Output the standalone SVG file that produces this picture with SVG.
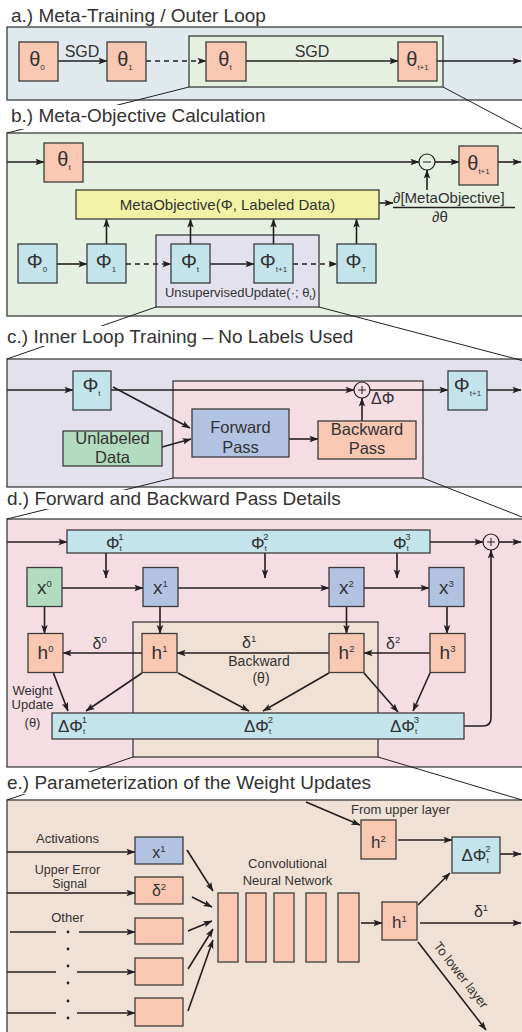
<svg xmlns="http://www.w3.org/2000/svg" width="522" height="1032" viewBox="0 0 522 1032">
<defs>
<style>
.pn{stroke:#3c3c3c;stroke-width:1.3}
.bx{stroke:#3c3c3c;stroke-width:1.3}
.sal{fill:#f9c8b3}
.cy{fill:#c2e4ea}
.bl{fill:#b2c2e2}
.gr{fill:#b2dbbf}
.yl{fill:#f1f2a6}
.c{fill:none;stroke:#231f20;stroke-width:1.6}
.ar{marker-end:url(#ah)}
.ds{stroke-dasharray:5 4}
.zl{fill:none;stroke:#231f20;stroke-width:1}
.t{font-family:"Liberation Sans",Arial,Helvetica,sans-serif;fill:#333}
.ttl{font-size:19px}
.n{font-size:20px;text-anchor:middle}
.nx{font-size:19px;text-anchor:middle}
.m{text-anchor:middle}
.sb{font-size:8px}
.sp{font-size:9.5px}
.wb{fill:#ffffff}
.dot{fill:#231f20}
</style>
<marker id="ah" viewBox="0 0 10 8" refX="9.5" refY="4" markerWidth="9" markerHeight="7.5" orient="auto" markerUnits="userSpaceOnUse">
<path d="M0,0.4 L10,4 L0,7.6 L2.2,4 Z" fill="#231f20"/>
</marker>
</defs>

<!-- panels -->
<g id="panel-a"><rect class="pn" x="7" y="27" width="530" height="73" fill="#e0e9ed"/></g>
<g id="zoom-a"><rect class="pn" x="189" y="36" width="254" height="51" fill="#e6f0e1"/></g>
<g id="panel-b"><rect class="pn" x="7" y="133" width="530" height="183" fill="#e6f0e2"/></g>
<g id="zoom-b"><rect class="pn" x="156" y="235" width="163" height="72" fill="#e3e1ee"/>
<text class="t m" x="240.5" y="297" font-size="13">UnsupervisedUpdate(·; θ<tspan class="sb" dy="3">t</tspan><tspan dy="-3">)</tspan></text></g>
<g id="panel-c"><rect class="pn" x="7" y="359" width="530" height="128" fill="#e3e2ec"/></g>
<g id="zoom-c"><rect class="pn" x="173" y="381" width="250" height="97" fill="#f5dde4"/></g>
<g id="panel-d"><rect class="pn" x="7" y="519" width="530" height="248" fill="#f5dde4"/></g>
<g id="zoom-d"><rect class="pn" x="133" y="622" width="245" height="135" fill="#f0e1d6"/>
<text class="t m" x="259" y="666" font-size="14">Backward</text>
<text class="t m" x="261" y="683" font-size="14">(θ)</text></g>
<g id="panel-e"><rect class="pn" x="7" y="800" width="530" height="240" fill="#f0e1d6"/></g>

<!-- zoom lines -->
<g id="zoom-lines">
<path class="zl" d="M189,87 L7,133"/>
<path class="zl" d="M443,87 L522,129"/>
<path class="zl" d="M156,307 L7,359"/>
<path class="zl" d="M319,307 L522,360.5"/>
<path class="zl" d="M173,478 L7,519"/>
<path class="zl" d="M423,478 L522,517"/>
<path class="zl" d="M133,757 L7,800"/>
<path class="zl" d="M378,757 L522,800"/>
</g>

<!-- titles -->
<g id="titles">
<text class="t ttl" x="11" y="22">a.) Meta-Training / Outer Loop</text>
<rect class="wb" x="0" y="105" width="272" height="24"/>
<text class="t ttl" x="11" y="122">b.) Meta-Objective Calculation</text>
<rect class="wb" x="0" y="326" width="362" height="20"/>
<text class="t ttl" x="7" y="343">c.) Inner Loop Training – No Labels Used</text>
<rect class="wb" x="0" y="490" width="356" height="19"/>
<text class="t ttl" x="7" y="505">d.) Forward and Backward Pass Details</text>
<rect class="wb" x="0" y="772" width="382" height="22"/>
<text class="t ttl" x="7" y="789">e.) Parameterization of the Weight Updates</text>
</g>

<!-- connectors -->
<g id="connectors">
<!-- a -->
<path class="c ar" d="M58,61 H107"/>
<text class="t m" x="82" y="57" font-size="16">SGD</text>
<path class="c ar ds" d="M146,61 H206"/>
<path class="c ar" d="M246,61 H398"/>
<text class="t m" x="312" y="57" font-size="16">SGD</text>
<path class="c ar" d="M437,61 H521"/>
<!-- b -->
<path class="c ar" d="M7,162 H44"/>
<path class="c ar" d="M83,162 H419"/>
<path class="c ar" d="M435,162 H459"/>
<path class="c ar" d="M498,162 H521"/>
<path class="c ar" d="M427,190 V170"/>
<path class="c ar" d="M379,203 H393"/>
<text class="t" x="393" y="203" font-size="15">∂[MetaObjective]</text>
<path class="c" d="M393,207.5 H515" stroke-width="1.2"/>
<text class="t m" x="440" y="222" font-size="15">∂θ</text>
<path class="c ar" d="M106.5,244 V219"/>
<path class="c ar" d="M190.5,244 V219"/>
<path class="c ar" d="M273.5,244 V219"/>
<path class="c ar" d="M356.5,244 V219"/>
<path class="c ar" d="M57,264 H87"/>
<path class="c ar ds" d="M126,264 H171"/>
<path class="c ar" d="M210,264 H254"/>
<path class="c ar ds" d="M293,264 H337"/>
<!-- c -->
<path class="c ar" d="M7,390 H73"/>
<path class="c ar" d="M111,390 H354"/>
<path class="c ar" d="M370,390 H448"/>
<path class="c ar" d="M487,390 H521"/>
<path class="c ar" d="M113,387 L190,428"/>
<path class="c ar" d="M162,447 L191,439"/>
<path class="c ar" d="M289,439 H318"/>
<path class="c ar" d="M362,421 V398"/>
<text class="t" x="371" y="404" font-size="16">ΔΦ</text>
<!-- d -->
<path class="c ar" d="M7,542 H67"/>
<path class="c ar" d="M430,542 H483"/>
<path class="c ar" d="M499,542 H521"/>
<path class="c ar" d="M106,553 V578"/>
<path class="c ar" d="M265,553 V578"/>
<path class="c ar" d="M397,553 V578"/>
<path class="c ar" d="M62,588 H143"/>
<path class="c ar" d="M178,588 H329"/>
<path class="c ar" d="M363,588 H429"/>
<path class="c ar" d="M44.5,607 V633.5"/>
<path class="c ar" d="M160,606.5 V633.5"/>
<path class="c ar" d="M346.5,606.5 V633.5"/>
<path class="c ar" d="M447,607 V633.5"/>
<path class="c ar" d="M329,653 H177"/>
<path class="c ar" d="M142,653 H63"/>
<path class="c ar" d="M430,653 H364"/>
<text class="t" x="92.5" y="649" font-size="16">δ<tspan class="sp" dy="-6">0</tspan></text>
<text class="t" x="242" y="648" font-size="16">δ<tspan class="sp" dy="-6">1</tspan></text>
<text class="t" x="386" y="649" font-size="16">δ<tspan class="sp" dy="-6">2</tspan></text>
<path class="c ar" d="M53,672 L68,711"/>
<path class="c ar" d="M142,673 L86,711"/>
<path class="c ar" d="M178,673 L249,711"/>
<path class="c ar" d="M329,673 L263,711"/>
<path class="c ar" d="M364,673 L398,712"/>
<path class="c ar" d="M430,673 L413,711"/>
<path class="c ar" d="M464,726 H483 Q491,726 491,718 V550"/>
<text class="t m" x="32.5" y="695" font-size="13">Weight</text>
<text class="t m" x="32.5" y="709" font-size="13">Update</text>
<text class="t m" x="32.5" y="727" font-size="13">(θ)</text>
<!-- e -->
<text class="t m" x="67.5" y="843" font-size="13">Activations</text>
<path class="c ar" d="M7,852 H135"/>
<text class="t m" x="67.5" y="873.5" font-size="12.5">Upper Error</text>
<text class="t m" x="69.5" y="888" font-size="12.5">Signal</text>
<path class="c ar" d="M7,893 H135"/>
<text class="t m" x="67.5" y="922" font-size="13">Other</text>
<path class="c" d="M10,932 H56"/>
<path class="c ar" d="M79,932 H135"/>
<path class="c" d="M7,972 H56"/>
<path class="c ar" d="M77,972 H135"/>
<path class="c" d="M7,1013 H56"/>
<path class="c ar" d="M77,1013 H135"/>
<circle class="dot" cx="68" cy="932" r="1.4"/>
<circle class="dot" cx="68" cy="949" r="1.4"/>
<circle class="dot" cx="68" cy="966" r="1.4"/>
<circle class="dot" cx="68" cy="983" r="1.4"/>
<circle class="dot" cx="68" cy="1001" r="1.4"/>
<circle class="dot" cx="68" cy="1018" r="1.4"/>
<path class="c ar" d="M187,850 L213,891"/>
<path class="c ar" d="M192,897 L212,907"/>
<path class="c ar" d="M188,931 L212,921"/>
<path class="c ar" d="M188,969 L213,929"/>
<path class="c ar" d="M188,1011 L213,940"/>
<text class="t m" x="287.5" y="868" font-size="13">Convolutional</text>
<text class="t m" x="287.5" y="885" font-size="13">Neural Network</text>
<path class="c ar" d="M361,923 H382"/>
<path class="c ar" d="M420,923 H521"/>
<text class="t m" x="481" y="917" font-size="16">δ<tspan class="sp" dy="-6">1</tspan></text>
<path class="c ar" d="M418,905 L450,873"/>
<path class="c ar" d="M500,854 H521"/>
<text class="t m" x="400.5" y="814" font-size="13">From upper layer</text>
<path class="c ar" d="M306,802 L360,825"/>
<path class="c ar" d="M398,840 H452"/>
<path class="c ar" d="M418,942 L486,1030"/>
<text class="t m" font-size="13" transform="translate(461,975) rotate(52.3)" y="4.5">To lower layer</text>
</g>

<!-- nodes: a -->
<g id="a-theta0"><rect class="bx sal" x="19" y="42" width="39" height="39"/><text class="t n" x="37" y="66">θ<tspan class="sb" dy="4">0</tspan></text></g>
<g id="a-theta1"><rect class="bx sal" x="107" y="42" width="39" height="39"/><text class="t n" x="125" y="66">θ<tspan class="sb" dy="4">1</tspan></text></g>
<g id="a-thetat"><rect class="bx sal" x="206" y="42" width="40" height="39"/><text class="t n" x="225" y="66">θ<tspan class="sb" dy="4">t</tspan></text></g>
<g id="a-thetat1"><rect class="bx sal" x="398" y="42" width="39" height="39"/><text class="t n" x="417.5" y="66">θ<tspan class="sb" dy="4">t+1</tspan></text></g>

<!-- nodes: b -->
<g id="b-thetat"><rect class="bx sal" x="44" y="143" width="39" height="39"/><text class="t n" x="64" y="166">θ<tspan class="sb" dy="4">t</tspan></text></g>
<g id="b-minus"><circle cx="427" cy="162" r="8" fill="none" stroke="#231f20" stroke-width="1.2"/><path d="M423,162 H431" stroke="#231f20" stroke-width="1"/></g>
<g id="b-thetat1"><rect class="bx sal" x="459" y="146" width="39" height="39"/><text class="t n" x="478.5" y="170">θ<tspan class="sb" dy="4">t+1</tspan></text></g>
<g id="b-metaobj"><rect class="bx yl" x="76" y="190" width="303" height="29"/><text class="t m" x="227.5" y="209.5" font-size="15">MetaObjective(Φ, Labeled Data)</text></g>
<g id="b-phi0"><rect class="bx cy" x="18" y="244" width="39" height="39"/><text class="t n" x="37" y="268">Φ<tspan class="sb" dy="4">0</tspan></text></g>
<g id="b-phi1"><rect class="bx cy" x="87" y="244" width="39" height="39"/><text class="t n" x="106" y="268">Φ<tspan class="sb" dy="4">1</tspan></text></g>
<g id="b-phit"><rect class="bx cy" x="171" y="244" width="39" height="39"/><text class="t n" x="190" y="268">Φ<tspan class="sb" dy="4">t</tspan></text></g>
<g id="b-phit1"><rect class="bx cy" x="254" y="244" width="39" height="39"/><text class="t n" x="273.5" y="268">Φ<tspan class="sb" dy="4">t+1</tspan></text></g>
<g id="b-phiT"><rect class="bx cy" x="337" y="244" width="39" height="39"/><text class="t n" x="356" y="268">Φ<tspan class="sb" dy="4">T</tspan></text></g>

<!-- nodes: c -->
<g id="c-phit"><rect class="bx cy" x="73" y="371" width="38" height="39"/><text class="t n" x="91.5" y="392">Φ<tspan class="sb" dy="4">t</tspan></text></g>
<g id="c-plus"><circle cx="362" cy="390" r="8" fill="none" stroke="#231f20" stroke-width="1.2"/><path d="M358,390 H366 M362,386 V394" stroke="#231f20" stroke-width="1"/></g>
<g id="c-phit1"><rect class="bx cy" x="448" y="371" width="39" height="39"/><text class="t n" x="467.5" y="392">Φ<tspan class="sb" dy="4">t+1</tspan></text></g>
<g id="c-forward"><rect class="bx bl" x="192" y="409" width="97" height="48"/><text class="t m" x="240.5" y="433" font-size="16.5">Forward</text><text class="t m" x="240.5" y="453" font-size="16.5">Pass</text></g>
<g id="c-backward"><rect class="bx sal" x="318" y="421" width="98" height="38"/><text class="t m" x="367" y="434.5" font-size="16.5">Backward</text><text class="t m" x="367" y="454" font-size="16.5">Pass</text></g>
<g id="c-data"><rect class="bx gr" x="63" y="431" width="99" height="35"/><text class="t m" x="112.5" y="443.5" font-size="16.5">Unlabeled</text><text class="t m" x="112.5" y="462.5" font-size="16.5">Data</text></g>

<!-- nodes: d -->
<g id="d-phibar"><rect class="bx cy" x="67" y="530" width="363" height="23"/>
<text class="t" x="106" y="549" font-size="17">Φ<tspan class="sb" dy="2">t</tspan><tspan class="sp" dx="-3.5" dy="-11">1</tspan></text>
<text class="t" x="251" y="549" font-size="17">Φ<tspan class="sb" dy="2">t</tspan><tspan class="sp" dx="-3.5" dy="-11">2</tspan></text>
<text class="t" x="393" y="549" font-size="17">Φ<tspan class="sb" dy="2">t</tspan><tspan class="sp" dx="-3.5" dy="-11">3</tspan></text></g>
<g id="d-plus"><circle cx="491" cy="542" r="8" fill="none" stroke="#231f20" stroke-width="1.2"/><path d="M487,542 H495 M491,538 V546" stroke="#231f20" stroke-width="1"/></g>
<g id="d-x0"><rect class="bx gr" x="27" y="567.5" width="35" height="39"/><text class="t nx" x="44.5" y="594">x<tspan class="sp" dy="-7">0</tspan></text></g>
<g id="d-x1"><rect class="bx bl" x="143" y="567.5" width="35" height="39"/><text class="t nx" x="160.5" y="594">x<tspan class="sp" dy="-7">1</tspan></text></g>
<g id="d-x2"><rect class="bx bl" x="329" y="567.5" width="35" height="39"/><text class="t nx" x="346.5" y="594">x<tspan class="sp" dy="-7">2</tspan></text></g>
<g id="d-x3"><rect class="bx bl" x="429" y="567.5" width="35" height="39"/><text class="t nx" x="446.5" y="594">x<tspan class="sp" dy="-7">3</tspan></text></g>
<g id="d-h0"><rect class="bx sal" x="28" y="633.5" width="35" height="39"/><text class="t nx" x="45.5" y="659">h<tspan class="sp" dy="-7">0</tspan></text></g>
<g id="d-h1"><rect class="bx sal" x="142" y="633.5" width="35" height="39"/><text class="t nx" x="159.5" y="659">h<tspan class="sp" dy="-7">1</tspan></text></g>
<g id="d-h2"><rect class="bx sal" x="329" y="633.5" width="35" height="39"/><text class="t nx" x="346.5" y="659">h<tspan class="sp" dy="-7">2</tspan></text></g>
<g id="d-h3"><rect class="bx sal" x="430" y="633.5" width="35" height="39"/><text class="t nx" x="447.5" y="659">h<tspan class="sp" dy="-7">3</tspan></text></g>
<g id="d-dphibar"><rect class="bx cy" x="52" y="713" width="412" height="26"/>
<text class="t" x="58" y="732" font-size="17">ΔΦ<tspan class="sb" dy="2">t</tspan><tspan class="sp" dx="-3.5" dy="-11">1</tspan></text>
<text class="t" x="244" y="732" font-size="17">ΔΦ<tspan class="sb" dy="2">t</tspan><tspan class="sp" dx="-3.5" dy="-11">2</tspan></text>
<text class="t" x="390" y="732" font-size="17">ΔΦ<tspan class="sb" dy="2">t</tspan><tspan class="sp" dx="-3.5" dy="-11">3</tspan></text></g>

<!-- nodes: e -->
<g id="e-x1"><rect class="bx bl" x="135" y="837" width="48" height="27"/><text class="t m" x="159" y="857.5" font-size="16">x<tspan class="sp" dy="-6">1</tspan></text></g>
<g id="e-delta2"><rect class="bx sal" x="135" y="877" width="48" height="27"/><text class="t m" x="159" y="896" font-size="16">δ<tspan class="sp" dy="-6">2</tspan></text></g>
<g id="e-other1"><rect class="bx sal" x="135" y="918" width="48" height="26"/></g>
<g id="e-other2"><rect class="bx sal" x="135" y="958" width="48" height="27"/></g>
<g id="e-other3"><rect class="bx sal" x="135" y="998" width="48" height="28"/></g>
<g id="e-cnn">
<rect class="bx sal" x="218" y="893" width="20" height="69"/>
<rect class="bx sal" x="246" y="893" width="20" height="69"/>
<rect class="bx sal" x="274" y="893" width="20" height="69"/>
<rect class="bx sal" x="306" y="893" width="20" height="69"/>
<rect class="bx sal" x="338" y="893" width="21" height="69"/>
</g>
<g id="e-h1"><rect class="bx sal" x="382" y="902" width="35" height="38"/><text class="t m" x="399.5" y="927.5" font-size="17">h<tspan class="sp" dy="-6">1</tspan></text></g>
<g id="e-h2"><rect class="bx sal" x="361" y="820" width="35" height="39"/><text class="t m" x="378.5" y="847.5" font-size="17">h<tspan class="sp" dy="-6">2</tspan></text></g>
<g id="e-dphi2"><rect class="bx cy" x="452" y="837" width="48" height="36"/><text class="t m" x="476" y="860.5" font-size="17">ΔΦ<tspan class="sb" dy="2">t</tspan><tspan class="sp" dx="-3.5" dy="-11">2</tspan></text></g>
</svg>
